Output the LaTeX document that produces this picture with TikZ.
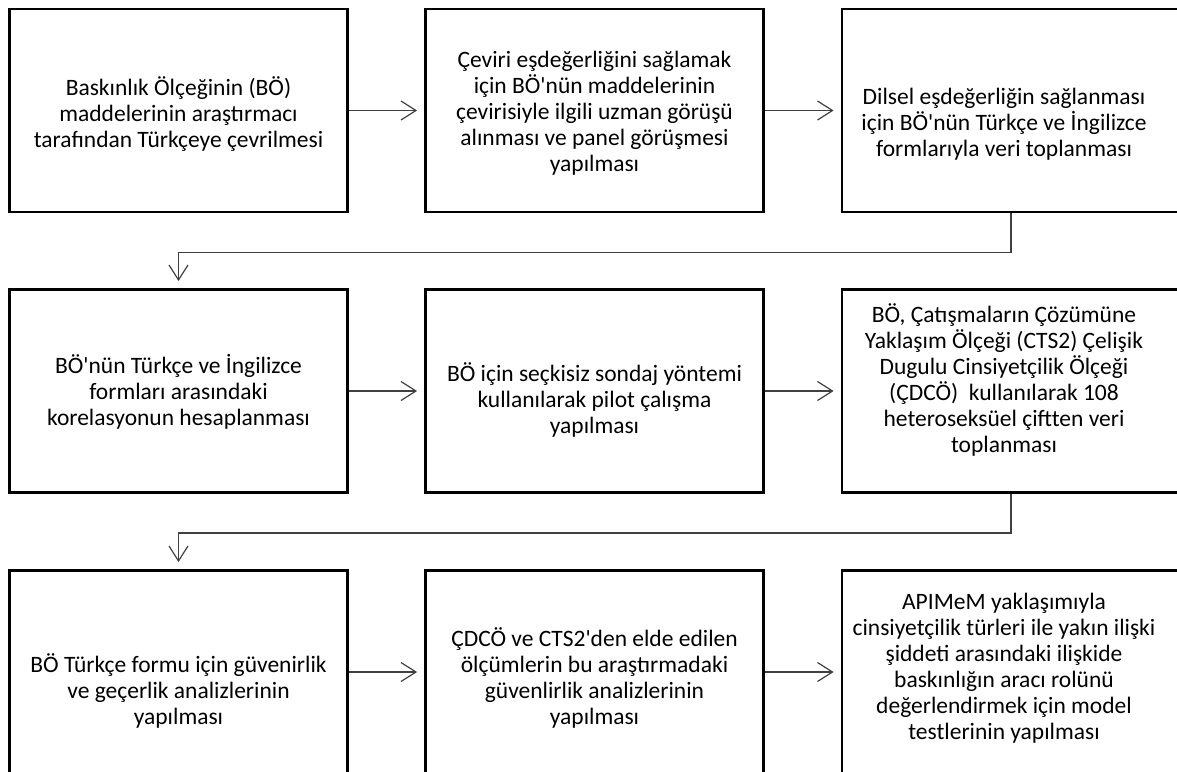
\documentclass[tikz,border=0pt]{standalone}
\usepackage{fontspec}
\setmainfont{Carlito}[Ligatures=TeXOff]
\usetikzlibrary{arrows.meta}
\definecolor{conncol}{HTML}{404040}
\begin{document}
\begin{tikzpicture}[x=1pt,y=-1pt,
  stepbox/.style={draw=black, line width=2.8pt, minimum width=338pt, minimum height=203pt, inner sep=0pt},
  txt/.style={align=center, inner sep=0pt, font=\fontsize{23.5}{26}\selectfont},
  conn/.style={draw=conncol, line width=1.3pt, -{Straight Barb[length=15pt,width=19pt,line width=1.2pt]}, shorten >=7pt}
]
\useasboundingbox (0,0) rectangle (1177,771);
\clip (0,0) rectangle (1177,771);
% boxes
\node[stepbox] (b1) at (178.5,110.5) {};
\node[stepbox] (b2) at (594.5,110.5) {};
\node[stepbox] (b3) at (1011,110.5) {};
\node[stepbox] (b4) at (178.5,391) {};
\node[stepbox] (b5) at (594.5,391) {};
\node[stepbox] (b6) at (1011,391) {};
\node[stepbox] (b7) at (178.5,672) {};
\node[stepbox] (b8) at (594.5,672) {};
\node[stepbox] (b9) at (1011,672) {};
% texts
\node[txt] (t1) at (178.5,114) {Baskınlık Ölçeğinin (BÖ)\\maddelerinin araştırmacı\\tarafından Türkçeye çevrilmesi};
\node[txt] (t2) at (594.5,113) {Çeviri eşdeğerliğini sağlamak\\için BÖ'nün maddelerinin\\çevirisiyle ilgili uzman görüşü\\alınması ve panel görüşmesi\\yapılması};
\node[txt] (t3) at (1004,124) {Dilsel eşdeğerliğin sağlanması\\için BÖ'nün Türkçe ve İngilizce\\formlarıyla veri toplanması};
\node[txt] (t4) at (178.5,392) {BÖ'nün Türkçe ve İngilizce\\formları arasındaki\\korelasyonun hesaplanması};
\node[txt] (t5) at (594.5,400) {BÖ için seçkisiz sondaj yöntemi\\kullanılarak pilot çalışma\\yapılması};
\node[txt] (t6) at (1004,380) {BÖ, Çatışmaların Çözümüne\\Yaklaşım Ölçeği (CTS2) Çelişik\\Dugulu Cinsiyetçilik Ölçeği\\(ÇDCÖ)~ kullanılarak 108\\heteroseksüel çiftten veri\\toplanması};
\node[txt] (t7) at (178.5,691) {BÖ Türkçe formu için güvenirlik\\ve geçerlik analizlerinin\\yapılması};
\node[txt] (t8) at (594.5,678) {ÇDCÖ ve CTS2'den elde edilen\\ölçümlerin bu araştırmadaki\\güvenlirlik analizlerinin\\yapılması};
\node[txt] (t9) at (1004,668) {APIMeM yaklaşımıyla\\cinsiyetçilik türleri ile yakın ilişki\\şiddeti arasındaki ilişkide\\baskınlığın aracı rolünü\\değerlendirmek için model\\testlerinin yapılması};
% connectors
\draw[conn] (b1.east) -- (b2.west);
\draw[conn] (b2.east) -- (b3.west);
\draw[conn] (b3.south) -- ++(0,39) -| (b4.north);
\draw[conn] (b4.east) -- (b5.west);
\draw[conn] (b5.east) -- (b6.west);
\draw[conn] (b6.south) -- ++(0,39) -| (b7.north);
\draw[conn] (b7.east) -- (b8.west);
\draw[conn] (b8.east) -- (b9.west);
\end{tikzpicture}
\end{document}
